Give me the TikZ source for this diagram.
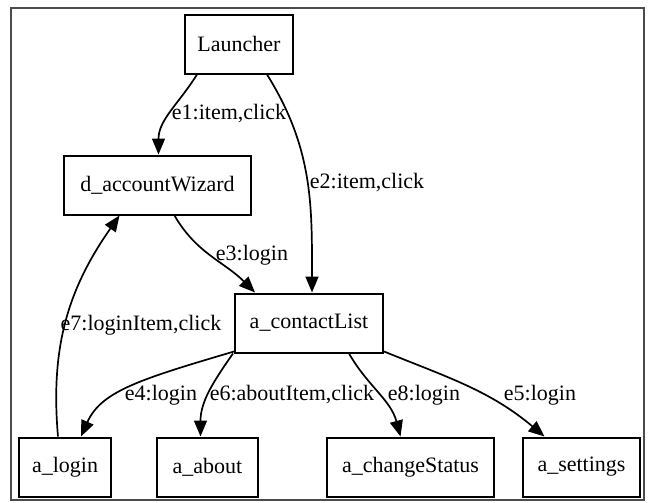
\documentclass[tikz,border=0pt]{standalone}
\usepackage{fontspec}
\setmainfont{Liberation Serif}
\usetikzlibrary{arrows.meta}

\tikzset{
  state/.style={draw, line width=1pt, minimum height=29.5pt, inner sep=2pt, font=\fontsize{11}{13}\selectfont},
  trans/.style={line width=0.85pt, -{Triangle[length=8pt,width=6.5pt]}},
  lbl/.style={font=\fontsize{11}{13}\selectfont, inner sep=1pt},
}

\begin{document}
\begin{tikzpicture}[x=0.5pt,y=-0.5pt]
\useasboundingbox (0,0) rectangle (648,503);
\draw[gray!60!black, line width=0.7pt] (11,8) rectangle (644,500);

\node[state, minimum width=54pt] (launcher) at (239,44) {Launcher};
\node[state, minimum width=93.5pt] (wizard) at (157.5,185) {d\_accountWizard};
\node[state, minimum width=74pt] (contacts) at (309,323) {a\_contactList};
\foreach \n/\x/\w/\t in {login/65/46/a\_login, about/207.5/50.5/a\_about,
    status/410.5/83.5/a\_changeStatus, settings/581.5/58.5/a\_settings}{
	\node[state, minimum width=\w pt] (\n) at (\x,467) {\t};
	}

\draw[trans] ([xshift=-21pt]launcher.south) to[out=-122,in=90] ([xshift=0.5pt]wizard.north);
\draw[trans] ([xshift=14pt]launcher.south) to[out=-58,in=90] ([xshift=1.5pt]contacts.north);
\draw[trans] ([xshift=8.5pt]wizard.south) to[out=-60,in=135] ([xshift=-27pt]contacts.north);
\draw[trans] ([xshift=-3.5pt]login.north) to[out=95,in=-125] ([xshift=-19pt]wizard.south);
\draw[trans] ([yshift=1pt]contacts.south west) .. controls +(-95,28) and +(20,-45) .. ([xshift=8pt]login.north);
\draw[trans] ([xshift=-0.5pt]contacts.south west) to[out=-125,in=90] ([xshift=-3.5pt]about.north);
\draw[trans] ([xshift=20pt]contacts.south) to[out=-60,in=105] ([xshift=-5pt]status.north);
\draw[trans] ([yshift=1pt]contacts.south east) to[out=-22,in=140] ([xshift=-18.5pt]settings.north);

\node[lbl] (l1) at (229,114) {e1:item,click};
\node[lbl] (l2) at (367,183) {e2:item,click};
\node[lbl] (l3) at (252,255) {e3:login};
\node[lbl] (l7) at (141,325) {e7:loginItem,click};
\node[lbl] (l4) at (161,395) {e4:login};
\node[lbl] (l6) at (292,395) {e6:aboutItem,click};
\node[lbl] (l8) at (424,395) {e8:login};
\node[lbl] (l5) at (540,395) {e5:login};
\end{tikzpicture}
\end{document}
